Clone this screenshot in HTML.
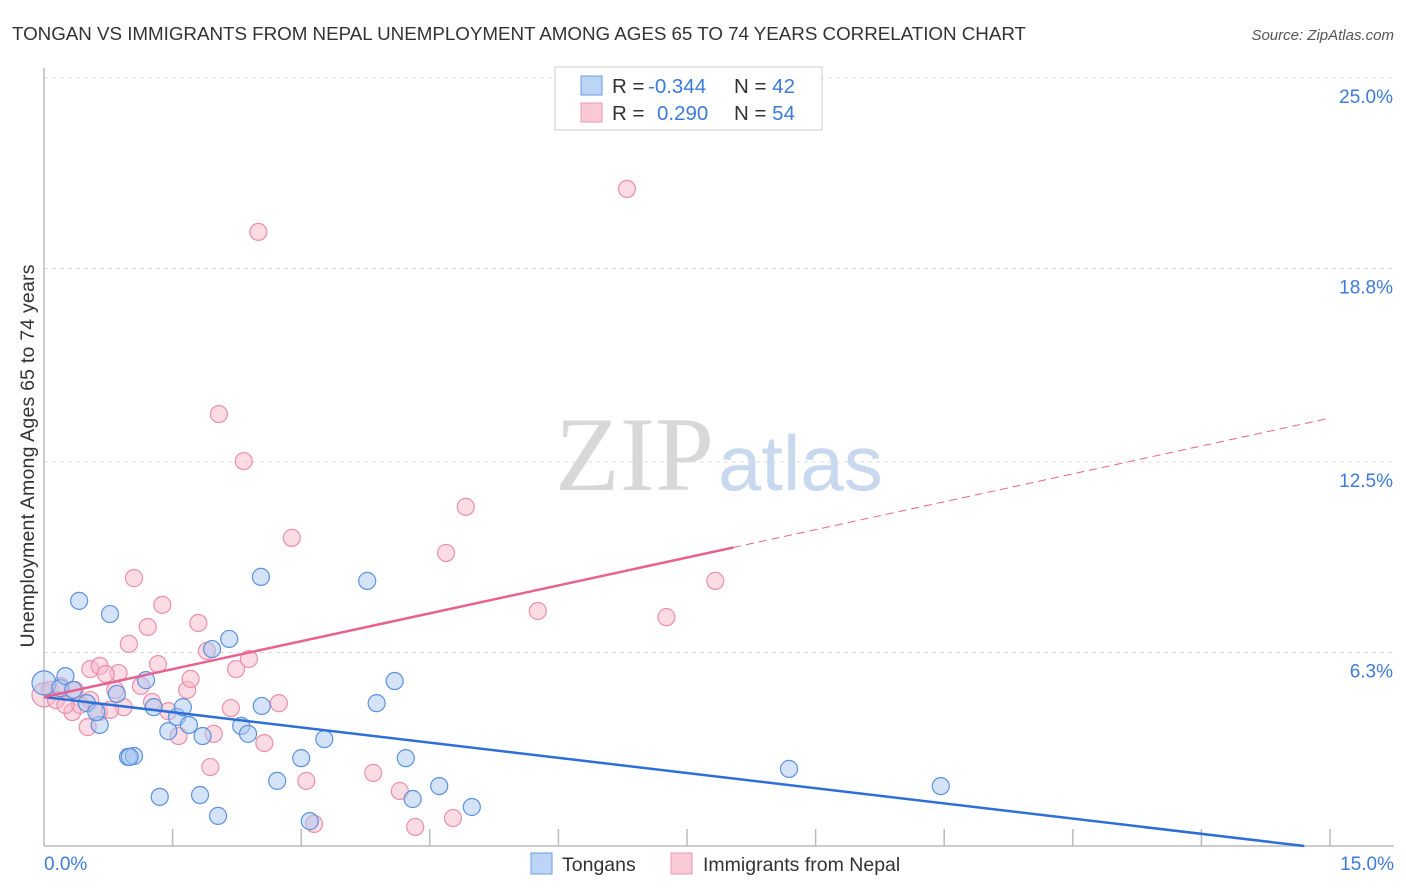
<!DOCTYPE html>
<html><head><meta charset="utf-8"><style>
body{margin:0;background:#fff;font-family:"Liberation Sans",sans-serif;}
</style></head><body>
<svg id="c" width="1406" height="892" xmlns="http://www.w3.org/2000/svg" style="display:block">
<text x="12" y="40" font-size="18.8" fill="#333" textLength="1014">TONGAN VS IMMIGRANTS FROM NEPAL UNEMPLOYMENT AMONG AGES 65 TO 74 YEARS CORRELATION CHART</text>
<text x="1394" y="40" font-size="15" fill="#555" font-style="italic" text-anchor="end">Source: ZipAtlas.com</text>
<text x="555" y="490" font-size="106" fill="#d8d8d8" font-family="Liberation Serif,serif">ZIP<tspan fill="#c8d8ee" font-family="Liberation Sans,sans-serif" font-size="78" x="718">atlas</tspan></text>
<g id="grid"></g><g id="axes"></g><g id="pts"></g><g id="lines"></g>
<text transform="translate(34,456) rotate(-90)" font-size="19.5" fill="#333" text-anchor="middle" textLength="383">Unemployment Among Ages 65 to 74 years</text>
<g>
<rect x="555" y="67" width="267" height="63" fill="#fff" stroke="#ccc"/>
<rect x="581" y="76" width="21" height="19" fill="#bcd4f5" stroke="#6a9be0"/>
<rect x="581" y="103" width="21" height="19" fill="#f9c9d6" stroke="#eb98b0"/>
<text x="612" y="93" font-size="20.5" fill="#333">R = <tspan x="648" fill="#3d7bd9">-0.344</tspan><tspan x="734">N = </tspan><tspan fill="#3d7bd9">42</tspan></text>
<text x="612" y="120" font-size="20.5" fill="#333">R = <tspan x="657" fill="#3d7bd9">0.290</tspan><tspan x="734">N = </tspan><tspan fill="#3d7bd9">54</tspan></text>
</g>
<g>
<rect x="531" y="853" width="21" height="21" fill="#bcd4f5" stroke="#6a9be0"/>
<text x="562" y="871" font-size="19.5" fill="#333">Tongans</text>
<rect x="671" y="853" width="21" height="21" fill="#f9c9d6" stroke="#eb98b0"/>
<text x="703" y="871" font-size="19.5" fill="#333">Immigrants from Nepal</text>
</g>
</svg>
<script>
const yTicks=[6.3,12.5,18.8,25.0];
const yTickLabels=["6.3%","12.5%","18.8%","25.0%"];
const xTickLabels=["0.0%","15.0%"];
const blueX=[0,0.19,0.25,0.41,0.77,0.50,0.65,0.61,0.98,1.05,1.35,1.19,0.85,1.28,1.45,1.55,1.62,1.69,1.85,2.03,1.82,1.96,2.16,2.30,2.38,2.53,2.54,2.72,3.00,3.10,3.27,3.77,3.88,4.09,4.22,4.30,4.61,4.99,8.69,10.46,0.34,1.00];
const blueY=[5.31,5.14,5.53,7.98,7.55,4.65,3.94,4.36,2.90,2.93,1.60,5.40,4.95,4.52,3.74,4.20,4.52,3.94,3.58,0.98,1.66,6.41,6.74,3.91,3.65,8.76,4.56,2.12,2.86,0.81,3.48,8.63,4.65,5.37,2.86,1.53,1.95,1.27,2.51,1.95,5.08,2.90];
const pinkX=[0,0.07,0.19,0.36,0.54,0.64,0.33,0.51,1.05,1.38,1.21,0.99,1.33,0.87,0.54,0.65,0.72,0.83,0.93,1.13,1.26,1.45,1.57,1.67,1.71,1.80,1.90,1.94,1.98,2.04,2.18,2.24,2.33,2.39,2.50,2.57,2.74,2.89,3.06,3.15,3.84,4.15,4.33,4.69,4.77,4.92,5.76,6.80,7.26,7.83,0.14,0.42,0.77,0.25];
const pinkY=[4.92,5.08,5.21,5.08,4.75,4.36,4.36,3.87,8.72,7.85,7.13,6.58,5.92,5.63,5.76,5.86,5.60,5.08,4.52,5.21,4.69,4.39,3.58,5.08,5.44,7.26,6.35,2.57,3.65,14.06,4.49,5.76,12.53,6.09,19.99,3.35,4.65,10.03,2.12,0.72,2.38,1.79,0.62,9.54,0.91,11.04,7.65,21.39,7.45,8.63,4.75,4.59,4.43,4.59];
const blueTrend=[4.85,0.0];
const blueEnd=14.7;
const pinkTrend=[4.85,13.93];
const pinkSolidEnd=8.04;
const NS="http://www.w3.org/2000/svg";
const X=v=>44+v*(1286/15);
const Y=v=>846-v*30.72;
function mk(p,t,a){const e=document.createElementNS(NS,t);for(const k in a)e.setAttribute(k,a[k]);p.appendChild(e);return e;}
const grid=document.getElementById('grid'),axes=document.getElementById('axes'),pts=document.getElementById('pts'),lines=document.getElementById('lines');
yTicks.forEach((t,i)=>{
 const l=mk(grid,'line',{x1:44,x2:1394,y1:Y(t),y2:Y(t),stroke:'#ddd','stroke-dasharray':'4,4'});
 
 
 const tx=mk(axes,'text',{x:1393,y:Y(t)+25,'font-size':19,fill:'#3d7bd9','text-anchor':'end'});
 tx.textContent=yTickLabels[i];
 
 
});
mk(axes,'line',{x1:44,x2:44,y1:68,y2:846,stroke:'#bbb','stroke-width':1.5});
mk(axes,'line',{x1:44,x2:1394,y1:846,y2:846,stroke:'#bbb','stroke-width':1.5});
for(let i=1;i<=10;i++){const x=X(i*1.5);mk(axes,'line',{x1:x,x2:x,y1:829,y2:846,stroke:'#bbb','stroke-width':1.5});}
[[0,xTickLabels[0],'start',44],[15,xTickLabels[1],'end',1394]].forEach(d=>{
 const t=mk(axes,'text',{x:d[3],y:870,'font-size':19,fill:'#3d7bd9','text-anchor':d[2]});t.textContent=d[1];
 
 
});
function dots(xs,ys,fill,stroke,name){xs.forEach((v,i)=>{
 const c=mk(pts,'circle',{cx:X(v),cy:Y(ys[i]),r:i==0?12:8.5,fill:fill,'fill-opacity':0.5,stroke:stroke,'stroke-width':1.2});
 
 
});}
dots(pinkX,pinkY,'#f7b8ca','#eb8fab','nepal-point');
dots(blueX,blueY,'#a9c8f2','#5b92de','tongan-point');
const bl=mk(lines,'line',{x1:X(0),y1:Y(blueTrend[0]),x2:X(blueEnd),y2:Y(blueTrend[1]),stroke:'#2d6fd6','stroke-width':2.5});


const pv=x=>pinkTrend[0]+(pinkTrend[1]-pinkTrend[0])*x/15;
const pl=mk(lines,'line',{x1:X(0),y1:Y(pv(0)),x2:X(pinkSolidEnd),y2:Y(pv(pinkSolidEnd)),stroke:'#e8628f','stroke-width':2.5});


const pd=mk(lines,'line',{x1:X(pinkSolidEnd),y1:Y(pv(pinkSolidEnd)),x2:X(15),y2:Y(pv(15)),stroke:'#e8628f','stroke-width':1,'stroke-dasharray':'8,5'});


</script>
</body></html>
